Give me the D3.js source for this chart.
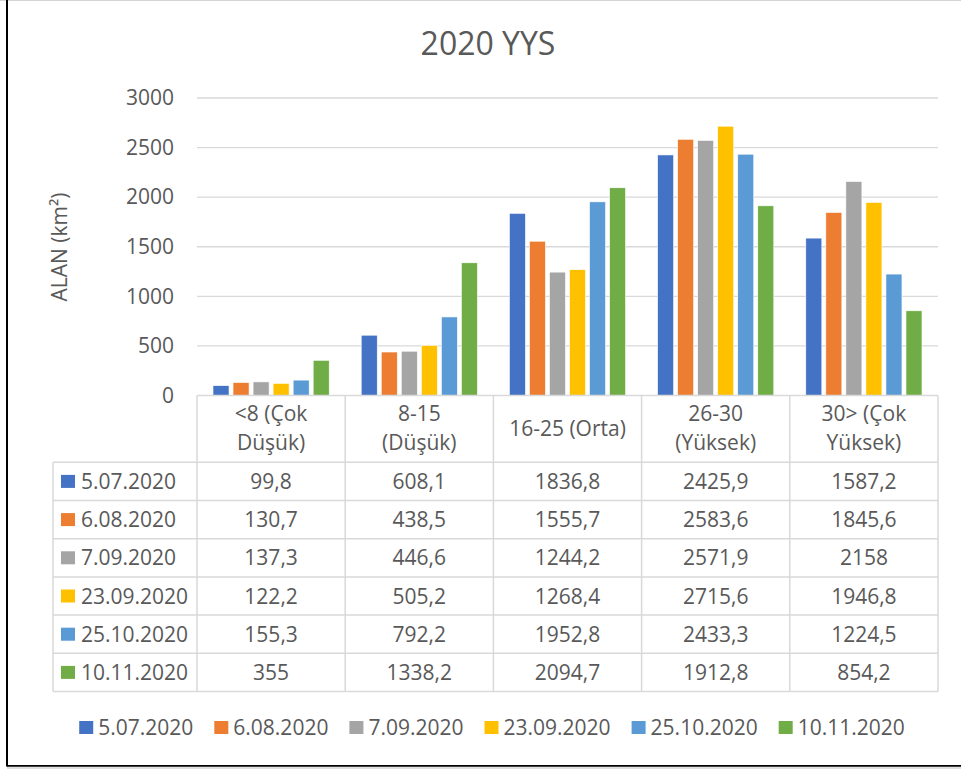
<!DOCTYPE html>
<html>
<head>
<meta charset="utf-8">
<script src="https://cdn.jsdelivr.net/npm/d3@7/dist/d3.min.js"></script>
<style>
  html, body { margin: 0; padding: 0; background: #ffffff; }
  svg { display: block; }
  text { font-family: "Open Sans", "Noto Sans", sans-serif; fill: #595959; }
</style>
</head>
<body>
<svg id="chart" width="961" height="769"></svg>
<script>
// Slope classes (line breaks where the label wraps in its column)
const categories = ["<8 (Çok\nDüşük)", "8-15\n(Düşük)", "16-25 (Orta)", "26-30\n(Yüksek)", "30> (Çok\nYüksek)"];

// Acquisition dates
const seriesNames = ["5.07.2020", "6.08.2020", "7.09.2020", "23.09.2020", "25.10.2020", "10.11.2020"];

// Area (km²) per date, one value per slope class
const values_0507 = [99.8, 608.1, 1836.8, 2425.9, 1587.2];
const values_0608 = [130.7, 438.5, 1555.7, 2583.6, 1845.6];
const values_0709 = [137.3, 446.6, 1244.2, 2571.9, 2158];
const values_2309 = [122.2, 505.2, 1268.4, 2715.6, 1946.8];
const values_2510 = [155.3, 792.2, 1952.8, 2433.3, 1224.5];
const values_1011 = [355, 1338.2, 2094.7, 1912.8, 854.2];

const seriesValues = [values_0507, values_0608, values_0709, values_2309, values_2510, values_1011];

const yTicks = [0, 500, 1000, 1500, 2000, 2500, 3000];

const colors = ["#4472C4", "#ED7D31", "#A5A5A5", "#FFC000", "#5B9BD5", "#70AD47"];

const title = "2020 YYS";
const yTitle = "ALAN (km²)";

const svg = d3.select("#chart");
const W = 961, H = 769;
const FS = "21px";

// Plot area
const plot = { left: 197, right: 938, top: 98, bottom: 395.5 };
const table = { left: 53, headerBottom: 462.3, rowH: 38.2 };
const gridColor = "#d9d9d9";
const fmt = v => String(v).replace(".", ",");

// Frame around the chart
svg.append("line").attr("x1", 0).attr("x2", W).attr("y1", 0.5).attr("y2", 0.5)
  .attr("stroke", "#d4d4d4").attr("stroke-width", 1);
svg.append("line").attr("x1", 7).attr("x2", 7).attr("y1", 0).attr("y2", 766.5)
  .attr("stroke", "#000").attr("stroke-width", 2);
svg.append("line").attr("x1", 7).attr("x2", W).attr("y1", 765.8).attr("y2", 765.8)
  .attr("stroke", "#000").attr("stroke-width", 1.8);
svg.append("line").attr("x1", 7).attr("x2", W).attr("y1", 768).attr("y2", 768)
  .attr("stroke", "#bfbfbf").attr("stroke-width", 1);

// Title
svg.append("text").attr("x", 488).attr("y", 55)
  .attr("text-anchor", "middle").style("font-size", "32px").text(title);

// Scales
const x = d3.scaleBand().domain(d3.range(categories.length)).range([plot.left, plot.right]).padding(0);
const xs = d3.scaleBand().domain(d3.range(seriesNames.length))
  .range([14, x.bandwidth() - 14]).paddingInner(0.2).paddingOuter(0.1);
const y = d3.scaleLinear().domain([0, 3000]).range([plot.bottom, plot.top]);

// Gridlines
svg.append("g").selectAll("line").data(yTicks.filter(t => t > 0)).join("line")
  .attr("x1", plot.left).attr("x2", plot.right)
  .attr("y1", d => y(d)).attr("y2", d => y(d))
  .attr("stroke", gridColor).attr("stroke-width", 1.3);

// Y axis labels
const yAxis = svg.append("g").attr("transform", `translate(${plot.left - 23},0)`)
  .call(d3.axisLeft(y).tickValues(yTicks).tickFormat(d3.format("d")).tickSize(0).tickPadding(0));
yAxis.select(".domain").remove();
yAxis.selectAll("text").style("font-size", FS).attr("fill", "#595959")
  .style("font-family", "'Open Sans', sans-serif");

// Y axis title
svg.append("text").attr("transform", "translate(67,247) rotate(-90)")
  .attr("text-anchor", "middle").style("font-size", FS).text(yTitle);

// Bars
const groups = svg.append("g").selectAll("g").data(seriesValues).join("g")
  .attr("fill", (d, i) => colors[i]);
groups.each(function (vals, si) {
  d3.select(this).selectAll("rect").data(vals).join("rect")
    .attr("x", (v, ci) => x(ci) + xs(si))
    .attr("width", xs.bandwidth())
    .attr("y", v => y(v))
    .attr("height", v => y(0) - y(v))
    .attr("stroke", "#ffffff").attr("stroke-width", 0.6);
});

// Data table
const tg = svg.append("g");
const nRows = seriesNames.length;
const tableBottom = table.headerBottom + nRows * table.rowH;

// Axis line / table top across category columns
tg.append("line").attr("x1", plot.left).attr("x2", plot.right)
  .attr("y1", plot.bottom).attr("y2", plot.bottom)
  .attr("stroke", gridColor).attr("stroke-width", 1.5);
// Horizontal row lines
const rowLines = d3.range(nRows + 1).map(i => table.headerBottom + i * table.rowH);
tg.selectAll("line.row").data(rowLines).join("line").attr("class", "row")
  .attr("x1", table.left).attr("x2", plot.right)
  .attr("y1", d => d).attr("y2", d => d)
  .attr("stroke", gridColor).attr("stroke-width", 1.5);
// Vertical lines: category boundaries
const colEdges = d3.range(categories.length + 1).map(i => i < categories.length ? x(i) : plot.right);
tg.selectAll("line.col").data(colEdges).join("line").attr("class", "col")
  .attr("x1", d => d).attr("x2", d => d)
  .attr("y1", plot.bottom).attr("y2", tableBottom)
  .attr("stroke", gridColor).attr("stroke-width", 1.5);
tg.append("line").attr("x1", table.left).attr("x2", table.left)
  .attr("y1", table.headerBottom).attr("y2", tableBottom)
  .attr("stroke", gridColor).attr("stroke-width", 1.5);

// Category header labels
categories.forEach((c, i) => {
  const lines = c.split("\n");
  const cx = x(i) + x.bandwidth() / 2;
  const lh = 29;
  const mid = (plot.bottom + table.headerBottom) / 2 + 7;
  const t = tg.append("text").attr("text-anchor", "middle").style("font-size", FS);
  lines.forEach((ln, k) => {
    t.append("tspan").attr("x", cx)
      .attr("y", mid + (k - (lines.length - 1) / 2) * lh)
      .text(ln);
  });
});

// Rows: legend key + values
seriesNames.forEach((name, si) => {
  const cy = table.headerBottom + si * table.rowH + table.rowH / 2;
  tg.append("rect").attr("x", 61).attr("y", cy - 6.5).attr("width", 14).attr("height", 13)
    .attr("fill", colors[si]);
  tg.append("text").attr("x", 81).attr("y", cy + 7.5).style("font-size", FS).text(name);
  seriesValues[si].forEach((v, ci) => {
    tg.append("text").attr("x", x(ci) + x.bandwidth() / 2).attr("y", cy + 7.5)
      .attr("text-anchor", "middle").style("font-size", FS).text(fmt(v));
  });
});

// Legend at the bottom
const lg = svg.append("g");
const items = lg.selectAll("g").data(seriesNames).join("g");
items.append("rect").attr("width", 14).attr("height", 13).attr("y", -6.5)
  .attr("fill", (d, i) => colors[i]);
items.append("text").attr("x", 19).attr("y", 7.5).style("font-size", FS).text(d => d);
let cursor = 0;
const positions = [];
items.each(function () {
  positions.push(cursor);
  const w = d3.select(this).select("text").node().getComputedTextLength();
  cursor += 19 + w + 21;
});
const totalW = cursor - 21;
const startX = 492 - totalW / 2;
items.attr("transform", (d, i) => `translate(${startX + positions[i]},727.5)`);
</script>
</body>
</html>
